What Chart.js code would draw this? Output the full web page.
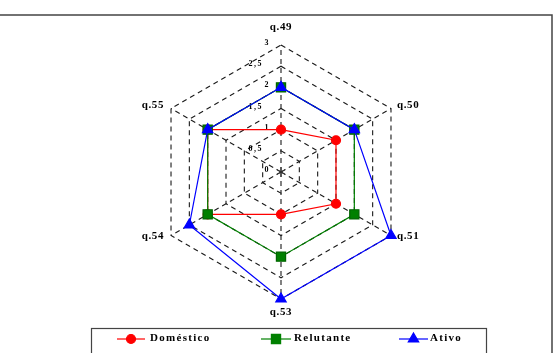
<!DOCTYPE html>
<html>
<head>
<meta charset="utf-8">
<script src="https://cdn.jsdelivr.net/npm/chart.js@4.4.0/dist/chart.umd.min.js"></script>
<style>
  html, body { margin: 0; padding: 0; background: #fff; }
</style>
</head>
<body>
<canvas id="myChart" width="556" height="353"></canvas>
<script>
// data
var questions = ['q.49', 'q.50', 'q.51', 'q.53', 'q.54', 'q.55'];
var domestico = [1, 1.5, 1.5, 1, 2, 2];
var relutante = [2, 2, 2, 2, 2, 2];
var ativo = [2, 2, 3, 3, 2.5, 2];
var tickValues = [0, 0.5, 1, 1.5, 2, 2.5, 3];
var tickLabels = ['0', '0,5', '1', '1,5', '2', '2,5', '3'];

var serif = "'Liberation Serif', 'DejaVu Serif', serif";

// white page + frame lines
var framePlugin = {
  id: 'frame',
  beforeDraw: function(chart) {
    var ctx = chart.ctx;
    ctx.save();
    ctx.fillStyle = '#fff';
    ctx.fillRect(0, 0, chart.width, chart.height);
    ctx.strokeStyle = '#444';
    ctx.lineWidth = 1.5;
    ctx.beginPath();
    ctx.moveTo(0, 15);
    ctx.lineTo(552, 15);
    ctx.lineTo(552, chart.height);
    ctx.stroke();
    ctx.restore();
  }
};

// tick labels on the left of the top spoke, plus the centre asterisk
var tickPlugin = {
  id: 'tickText',
  beforeDatasetsDraw: function(chart) {
    var ctx = chart.ctx;
    var s = chart.scales.r;
    ctx.save();
    ctx.letterSpacing = '1.5px';
    ctx.font = 'bold 8px ' + serif;
    ctx.fillStyle = '#000';
    ctx.textAlign = 'right';
    ctx.textBaseline = 'middle';
    for (var i = 0; i < tickValues.length; i++) {
      var y = s.yCenter - s.getDistanceFromCenterForValue(tickValues[i]);
      var off = tickLabels[i].length > 1 ? 18 : 11;
      ctx.fillText(tickLabels[i], s.xCenter - off, y - 2);
    }
    // asterisk
    ctx.strokeStyle = '#333';
    ctx.lineWidth = 1;
    ctx.beginPath();
    for (var a = 0; a < 3; a++) {
      var ang = Math.PI / 2 + a * Math.PI / 3;
      ctx.moveTo(s.xCenter - 5 * Math.cos(ang), s.yCenter - 5 * Math.sin(ang));
      ctx.lineTo(s.xCenter + 5 * Math.cos(ang), s.yCenter + 5 * Math.sin(ang));
    }
    ctx.stroke();
    ctx.restore();
  }
};

// question labels next to the outer ring
var labelPlugin = {
  id: 'qLabels',
  afterDatasetsDraw: function(chart) {
    var ctx = chart.ctx;
    var s = chart.scales.r;
    ctx.save();
    ctx.letterSpacing = '0.6px';
    ctx.font = 'bold 11px ' + serif;
    ctx.fillStyle = '#000';
    ctx.textBaseline = 'middle';
    chart.data.labels.forEach(function(lab, i) {
      var p = s.getPointPositionForValue(i, s.max);
      var dx = p.x - s.xCenter, dy = p.y - s.yCenter;
      var x = p.x, y = p.y;
      if (Math.abs(dx) < 1) {
        ctx.textAlign = 'center';
        y += dy < 0 ? -18 : 13;
      } else {
        ctx.textAlign = dx > 0 ? 'left' : 'right';
        x += dx > 0 ? 6 : -7;
        y += dy < 0 ? -3 : 1;
      }
      ctx.fillText(lab, x, y);
    });
    ctx.restore();
  }
};

// legend box at the bottom, line + marker + name
var legendX = [[117, 145, 150], [261, 291, 294], [399, 428, 430]];
var legendPlugin = {
  id: 'boxLegend',
  afterDraw: function(chart) {
    var ctx = chart.ctx;
    ctx.save();
    ctx.strokeStyle = '#444';
    ctx.lineWidth = 1.2;
    ctx.strokeRect(91.5, 328.5, 395, 40);
    var y = 339;
    chart.data.datasets.forEach(function(ds, i) {
      var p = legendX[i];
      ctx.strokeStyle = ds.borderColor;
      ctx.lineWidth = 1.2;
      ctx.beginPath();
      ctx.moveTo(p[0], y);
      ctx.lineTo(p[1], y);
      ctx.stroke();
      ctx.fillStyle = ds.pointBackgroundColor;
      Chart.helpers.drawPoint(ctx, {pointStyle: ds.pointStyle, radius: ds.pointRadius, rotation: 0, borderWidth: 1}, (p[0] + p[1]) / 2, y);
      ctx.letterSpacing = '1.3px';
      ctx.font = 'bold 11px ' + serif;
      ctx.fillStyle = '#000';
      ctx.textAlign = 'left';
      ctx.textBaseline = 'middle';
      ctx.fillText(ds.label, p[2], y - 1);
    });
    ctx.restore();
  }
};

var ctx = document.getElementById('myChart').getContext('2d');
var myRadar = new Chart(ctx, {
  type: 'radar',
  data: {
    labels: questions,
    datasets: [{
      label: 'Doméstico',
      data: domestico,
      borderColor: '#ff0000',
      backgroundColor: 'rgba(0,0,0,0)',
      pointBackgroundColor: '#ff0000',
      pointBorderColor: '#ff0000',
      pointStyle: 'circle',
      pointRadius: 4.5,
      borderWidth: 1.2,
      order: 3
    }, {
      label: 'Relutante',
      data: relutante,
      borderColor: '#008000',
      backgroundColor: 'rgba(0,0,0,0)',
      pointBackgroundColor: '#008000',
      pointBorderColor: '#006400',
      pointStyle: 'rect',
      pointRadius: 6.5,
      borderWidth: 1.2,
      order: 2
    }, {
      label: 'Ativo',
      data: ativo,
      borderColor: '#0000ff',
      backgroundColor: 'rgba(0,0,0,0)',
      pointBackgroundColor: '#0000ff',
      pointBorderColor: '#0000ff',
      pointStyle: 'triangle',
      pointRadius: 6,
      borderWidth: 1.2,
      order: 1
    }]
  },
  options: {
    responsive: false,
    animation: false,
    layout: { padding: { top: 45, bottom: 54, left: 6, right: 0 } },
    plugins: { legend: { display: false }, tooltip: { enabled: false } },
    scales: {
      r: {
        min: 0,
        max: 3,
        ticks: { display: false, stepSize: 0.5 },
        grid: { color: '#1a1a1a', lineWidth: 1.1, borderDash: [5, 4] },
        border: { dash: [5, 4] },
        angleLines: { color: '#1a1a1a', lineWidth: 1.1, borderDash: [5, 4] },
        pointLabels: { display: false }
      }
    }
  },
  plugins: [framePlugin, tickPlugin, labelPlugin, legendPlugin]
});
</script>
</body>
</html>
